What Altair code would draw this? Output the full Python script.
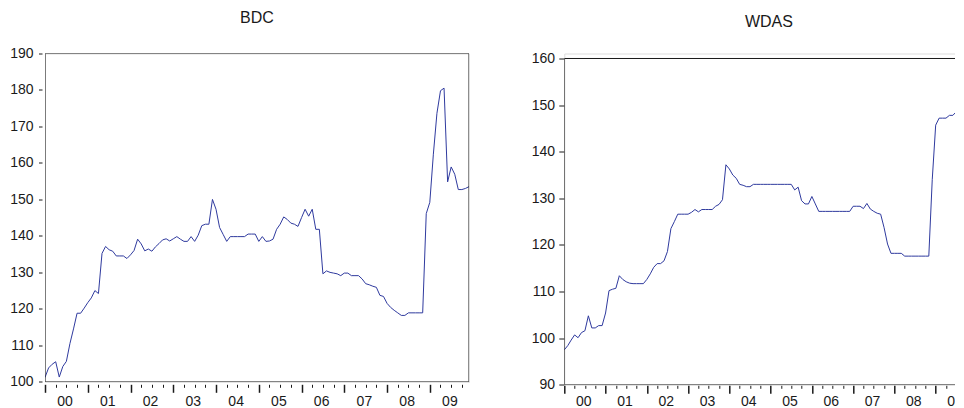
import json
import altair as alt
import pandas as pd

# ---------------- data (monthly, 2000M01 ..) ----------------
YEAR_LABELS = ["00", "01", "02", "03", "04", "05", "06", "07", "08", "09"]

BDC_VALUES = [
    101.2, 103.8, 104.8, 105.5, 101.3, 104.2, 105.6, 110.5, 114.5, 118.8,
    118.8, 120.2, 121.7, 123.0, 125.0, 124.2, 135.2, 137.1, 136.2, 135.8,
    134.5, 134.5, 134.5, 133.8, 134.8, 136.0, 139.1, 137.8, 135.9, 136.4,
    135.8, 137.0, 137.9, 138.9, 139.2, 138.6, 139.2, 139.8, 139.1, 138.5,
    138.5, 139.8, 138.5, 140.2, 142.8, 143.2, 143.2, 150.0, 147.3, 142.3,
    140.4, 138.5, 139.8, 139.8, 139.8, 139.8, 139.8, 140.5, 140.5, 140.5,
    138.5, 139.8, 138.5, 138.6, 139.1, 141.8, 143.2, 145.2, 144.5, 143.5,
    143.2, 142.6, 145.0, 147.3, 145.4, 147.3, 141.8, 141.8, 129.6, 130.4,
    130.0, 129.8, 129.6, 129.1, 129.8, 129.8, 129.1, 129.1, 129.1, 128.2,
    126.9, 126.6, 126.2, 125.9, 123.7, 123.4, 121.5, 120.4, 119.6, 118.9,
    118.2, 118.2, 118.9, 118.9, 118.9, 118.9, 118.9, 146.1, 149.2, 162.4,
    173.6, 179.8, 180.5, 154.8, 158.9, 156.9, 152.7, 152.7, 153.0, 153.5,
]

WDAS_VALUES = [
    97.5, 98.4, 99.6, 100.7, 100.1, 101.2, 101.6, 104.8, 102.2, 102.2,
    102.7, 102.7, 105.4, 110.2, 110.5, 110.7, 113.4, 112.6, 112.1, 111.8,
    111.7, 111.7, 111.7, 111.7, 112.6, 113.8, 115.2, 116.0, 116.0, 116.6,
    118.6, 123.5, 125.0, 126.6, 126.6, 126.6, 126.6, 127.0, 127.6, 127.1,
    127.6, 127.6, 127.6, 127.6, 128.3, 128.7, 129.7, 137.2, 136.3, 135.0,
    134.3, 133.0, 132.8, 132.5, 132.5, 133.0, 133.0, 133.0, 133.0, 133.0,
    133.0, 133.0, 133.0, 133.0, 133.0, 133.0, 133.0, 131.8, 132.4, 129.5,
    128.8, 128.8, 130.4, 128.8, 127.2, 127.2, 127.2, 127.2, 127.2, 127.2,
    127.2, 127.2, 127.2, 127.2, 128.3, 128.3, 128.3, 127.8, 128.9, 127.7,
    127.2, 126.8, 126.6, 123.7, 120.2, 118.2, 118.2, 118.2, 118.2, 117.6,
    117.6, 117.6, 117.6, 117.6, 117.6, 117.6, 117.6, 134.0, 145.7, 147.2,
    147.2, 147.2, 147.8, 147.8, 148.6, 151.6, 147.9,
]

BDC_YTICKS = [100, 110, 120, 130, 140, 150, 160, 170, 180, 190]
WDAS_YTICKS = [90, 100, 110, 120, 130, 140, 150, 160]

# ---------------- style ----------------
N_MONTHS = 120
LINE_COLOR = "#2f3a9e"
INK = "#1a1a1a"
FONT = "Liberation Sans"

label_expr = json.dumps(YEAR_LABELS) + "[floor(datum.value / 12)]"
major_vals = [12 * k for k in range(10)]
minor_vals = [3 * k for k in range(40) if k % 4]
label_vals = [12 * k + 5.5 for k in range(10)]

ONE = pd.DataFrame({"k": [0]})


def panel(values, y_dom, y_box, y_ticks, width, height, title, title_off,
          tick_off, lab_pad, y_off, y_tick, ylab_pad, right_border):
    df = pd.DataFrame({"m": list(range(len(values))), "v": values})
    xs = alt.Scale(domain=[0, N_MONTHS - 1], nice=False, zero=False)
    ys = alt.Scale(domain=y_dom, nice=False, zero=False)

    yaxis = alt.Axis(values=y_ticks, orient="left", grid=False, domain=False,
                     tickSize=y_tick, tickColor=INK, tickWidth=1, offset=y_off,
                     labelPadding=ylab_pad, labelFontSize=14, labelColor=INK,
                     labelFont=FONT, labelFlush=False, labelOverlap=False,
                     tickCount=len(y_ticks), title=None)
    lab_axis = alt.Axis(values=label_vals, labelExpr=label_expr, ticks=False,
                        tickSize=0, domain=False, grid=False, orient="bottom",
                        offset=0, labelPadding=lab_pad, labelFontSize=14,
                        labelColor=INK, labelFont=FONT, labelFlush=False,
                        labelOverlap=False, title=None)
    major_axis = alt.Axis(values=major_vals, labels=False, tickSize=8,
                          tickWidth=1.5, tickColor=INK, domain=False, grid=False,
                          orient="bottom", offset=tick_off, title=None)
    minor_axis = alt.Axis(values=minor_vals, labels=False, tickSize=3,
                          tickWidth=1, tickColor=INK, domain=False, grid=False,
                          orient="bottom", offset=tick_off, title=None)

    def hrule(yv):
        return alt.Chart(ONE).mark_rule(color=INK, strokeWidth=1, clip=True).encode(
            x=alt.X(datum=0, type="quantitative", scale=xs, axis=None),
            x2=alt.X2(datum=N_MONTHS - 1),
            y=alt.Y(datum=yv, type="quantitative", scale=ys, axis=yaxis),
        )

    def vrule(xv):
        return alt.Chart(ONE).mark_rule(color=INK, strokeWidth=1, clip=True).encode(
            x=alt.X(datum=xv, type="quantitative", scale=xs, axis=None),
            y=alt.Y(datum=y_box[0], type="quantitative", scale=ys, axis=yaxis),
            y2=alt.Y2(datum=y_box[1]),
        )

    borders = [hrule(y_box[0]), hrule(y_box[1]), vrule(0)]
    if right_border:
        borders.append(vrule(N_MONTHS - 1))

    line = alt.Chart(df).mark_line(color=LINE_COLOR, strokeWidth=1, clip=True).encode(
        x=alt.X("m:Q", scale=xs, axis=lab_axis),
        y=alt.Y("v:Q", scale=ys, axis=yaxis),
    )
    major = alt.Chart(df).mark_line(opacity=0).encode(
        x=alt.X("m:Q", scale=xs, axis=major_axis),
        y=alt.Y("v:Q", scale=ys, axis=yaxis),
    )
    minor = alt.Chart(df).mark_line(opacity=0).encode(
        x=alt.X("m:Q", scale=xs, axis=minor_axis),
        y=alt.Y("v:Q", scale=ys, axis=yaxis),
    )
    return alt.layer(line, *borders, major, minor).resolve_axis(
        x="independent"
    ).properties(
        width=width,
        height=height,
        title=alt.TitleParams(text=title, fontSize=16, font=FONT, color=INK,
                              fontWeight="normal", frame="group",
                              anchor="middle", baseline="alphabetic",
                              offset=title_off),
    )


left = panel(BDC_VALUES, [100, 190], [100, 190], BDC_YTICKS, 424, 328.3,
             "BDC", 7.4, 2.5, 12.5, 3, 3.5, 5.5, True)
right = panel(WDAS_VALUES, [90, 161.07], [90, 160], WDAS_YTICKS, 409.2, 331.3,
              "WDAS", 8.4, 0.5, 9.5, 0.5, 5, 4.3, False)

chart = alt.hconcat(
    left, right, spacing=60.3,
    padding={"left": 1, "top": 1.5, "right": -19, "bottom": 0},
).configure_view(stroke="transparent").configure(font=FONT, background="white")

chart.save("out.html", embed_options={"renderer": "svg", "actions": False})
